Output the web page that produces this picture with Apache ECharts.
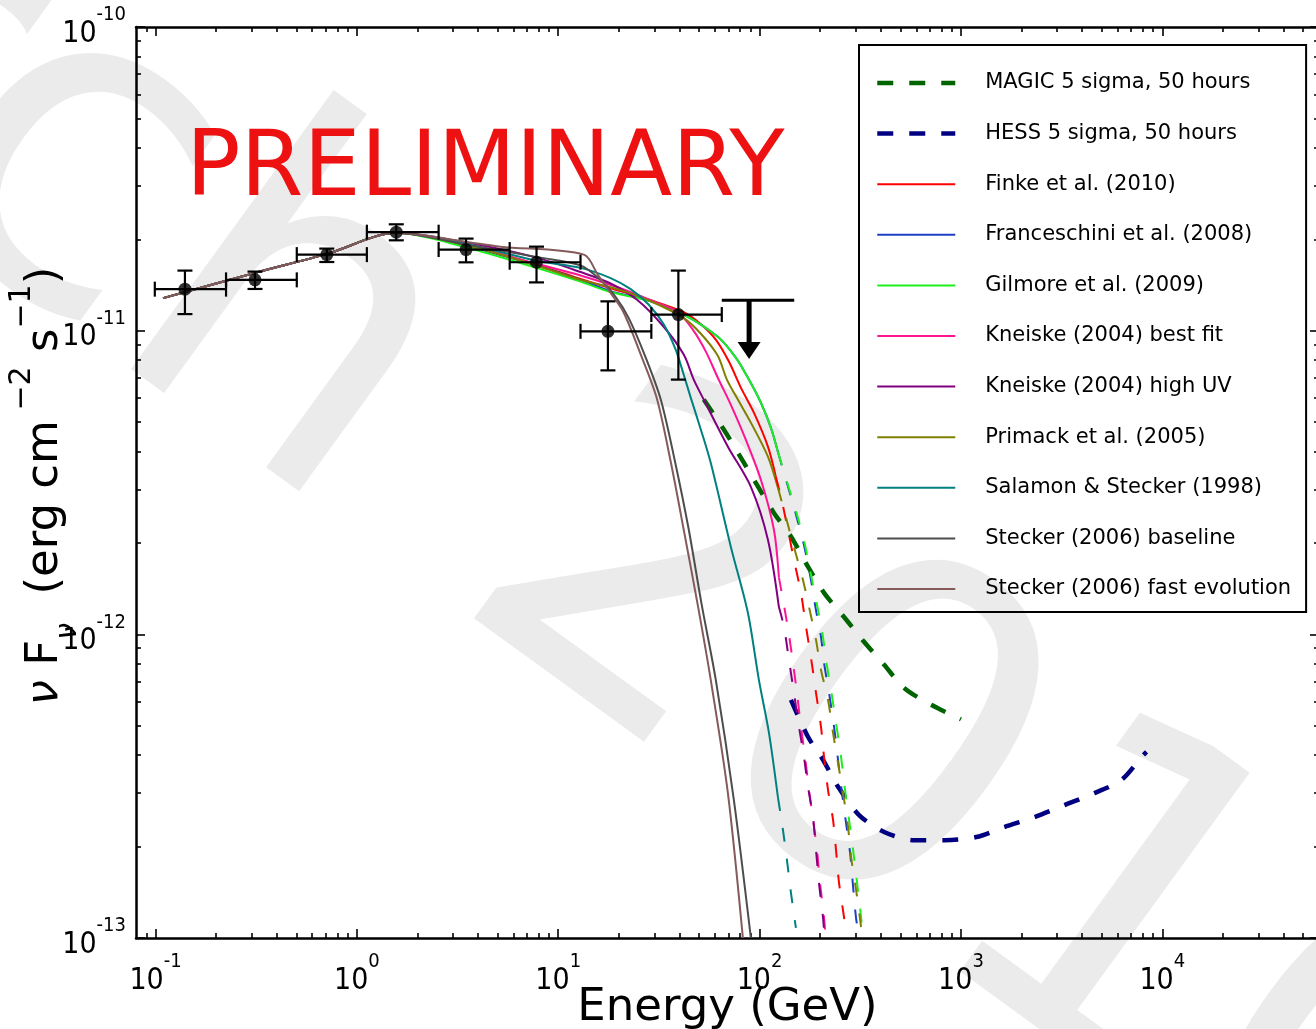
<!DOCTYPE html>
<html>
<head>
<meta charset="utf-8">
<title>Spectral energy distribution with EBL model predictions</title>
<script src="https://cdn.jsdelivr.net/npm/echarts@6.0.0/dist/echarts.min.js"></script>
<style>
  html, body { margin: 0; padding: 0; background: #ffffff; overflow: hidden; }
  #chart { width: 1316px; height: 1029px; }
</style>
</head>
<body>
<div id="chart"></div>
<script>
// ---------- measured spectrum: energy (GeV), nuFnu (erg cm^-2 s^-1) ----------
const binE    = [0.140, 0.312, 0.709, 1.569, 3.485, 7.80, 17.65, 39.5];
const binF    = [1.37e-11, 1.47e-11, 1.78e-11, 2.11e-11, 1.85e-11, 1.68e-11, 9.95e-12, 1.13e-11];
const binELo  = [0.0992, 0.224, 0.503, 1.121, 2.547, 5.74, 12.9, 29.0];
const binEHi  = [0.224, 0.503, 1.121, 2.547, 5.74, 12.9, 29.0, 64.9];
const binFLo  = [1.134e-11, 1.372e-11, 1.683e-11, 1.984e-11, 1.679e-11, 1.442e-11, 7.4e-12, 6.9e-12];
const binFHi  = [1.577e-11, 1.565e-11, 1.863e-11, 2.24e-11, 2.01e-11, 1.891e-11, 1.249e-11, 1.577e-11];

// upper limit in the last bin
const ulE = 88.7, ulELo = 64.9, ulEHi = 148.6, ulF = 1.26e-11, ulTip = 8.07e-12;

// ---------- instrument sensitivities (5 sigma, 50 h) ----------
const magicE = [52.8, 66.5, 80.7, 93.7, 117.8, 143.1, 173.9, 208.9, 262.7, 330, 415.5, 522.3, 711.7, 1000];
const magicF = [5.93e-12, 4.72e-12, 3.82e-12, 3.23e-12, 2.51e-12, 2.10e-12, 1.67e-12, 1.37e-12, 1.14e-12, 9.45e-13, 7.94e-13, 6.66e-13, 5.86e-13, 5.25e-13];
const hessE  = [143.1, 173.9, 206.5, 245.2, 311.9, 415.5, 586, 826, 1192, 1642, 2316, 3265, 4604, 6273, 7889, 8353];
const hessF  = [6.08e-13, 4.60e-13, 3.86e-13, 3.15e-13, 2.54e-13, 2.235e-13, 2.10e-13, 2.10e-13, 2.15e-13, 2.32e-13, 2.50e-13, 2.74e-13, 3.00e-13, 3.32e-13, 3.95e-13, 4.10e-13];

// ---------- absorbed model spectra ----------
// shared low-energy part of every model
const riseE = [0.109, 0.312, 0.711, 1.57];
const riseF = [1.28e-11, 1.55e-11, 1.79e-11, 2.10e-11];

const finkeE = [3.50, 7.80, 12.9, 18.2, 28.8, 42.0, 51.1, 60.6, 70.4, 80.7, 93.7, 110, 120.5];
const finkeF = [1.91e-11, 1.65e-11, 1.48e-11, 1.38e-11, 1.26e-11, 1.15e-11, 1.05e-11, 9.34e-12, 7.91e-12, 6.49e-12, 5.37e-12, 4.15e-12, 3.30e-12];
const finkeTailE = [120.5, 127.6, 138.3, 148.1, 160.5, 170.0, 180.0, 190.6, 201.8, 208.9, 218.7, 231.6, 239.6, 248.0, 262.7, 268.8];
const finkeTailF = [3.30e-12, 2.84e-12, 2.21e-12, 1.76e-12, 1.37e-12, 1.06e-12, 8.37e-13, 6.42e-13, 4.96e-13, 3.95e-13, 3.07e-13, 2.45e-13, 1.95e-13, 1.52e-13, 1.17e-13, 1.05e-13];

const francE = [3.50, 7.80, 12.9, 18.2, 28.8, 42.0, 62.0, 76.2, 88.5, 101.5, 113.8, 123.3];
const francF = [1.90e-11, 1.64e-11, 1.47e-11, 1.35e-11, 1.25e-11, 1.13e-11, 9.55e-12, 8.15e-12, 6.90e-12, 5.79e-12, 4.79e-12, 3.99e-12];
const francTailE = [123.3, 132.1, 143.1, 155.0, 168.1, 180.0, 190.6, 201.8, 208.9, 221.2, 234.3, 245.2, 256.7, 268.8, 281.4, 291.2, 301.4, 308.4];
const francTailF = [3.99e-12, 3.40e-12, 2.84e-12, 2.35e-12, 1.90e-12, 1.51e-12, 1.20e-12, 9.81e-13, 8.06e-13, 6.42e-13, 4.96e-13, 3.86e-13, 3.00e-13, 2.39e-13, 1.91e-13, 1.48e-13, 1.16e-13, 1.06e-13];

const gilmoreE = [3.50, 7.80, 12.9, 18.2, 28.8, 42.0, 62.0, 76.2, 88.5, 101.5, 113.8, 123.3];
const gilmoreF = [1.88e-11, 1.61e-11, 1.45e-11, 1.34e-11, 1.25e-11, 1.13e-11, 9.55e-12, 8.15e-12, 6.90e-12, 5.79e-12, 4.79e-12, 3.99e-12];
const gilmoreTailE = [123.3, 132.1, 143.1, 155.0, 168.1, 180.0, 192.8, 204.2, 213.7, 226.3, 239.6, 253.8, 265.7, 278.2, 291.2, 304.9, 319.2, 322.8];
const gilmoreTailF = [3.99e-12, 3.43e-12, 2.88e-12, 2.42e-12, 1.97e-12, 1.57e-12, 1.25e-12, 1.03e-12, 8.24e-13, 6.56e-13, 5.11e-13, 3.95e-13, 3.07e-13, 2.45e-13, 1.95e-13, 1.52e-13, 1.17e-13, 1.06e-13];

const kneiskeBestE = [3.50, 7.80, 12.9, 19.7, 28.8, 39.2, 46.6, 54.1, 62.0, 72.0, 85.5, 101.5, 117.8, 124.7];
const kneiskeBestF = [1.92e-11, 1.66e-11, 1.52e-11, 1.39e-11, 1.26e-11, 1.15e-11, 1.008e-11, 8.53e-12, 7.00e-12, 5.70e-12, 4.37e-12, 3.23e-12, 2.21e-12, 1.54e-12];
const kneiskeBestTailE = [124.7, 132.1, 139.9, 146.5, 153.3, 160.5, 168.1, 176.0, 184.2, 192.8, 199.5, 208.9, 211.3];
const kneiskeBestTailF = [1.54e-12, 1.25e-12, 9.96e-13, 8.06e-13, 6.42e-13, 4.96e-13, 3.95e-13, 3.07e-13, 2.45e-13, 1.95e-13, 1.52e-13, 1.17e-13, 1.06e-13];

const kneiskeUVE = [3.50, 7.80, 12.9, 18.2, 24.8, 33.4, 42.0, 47.1, 52.8, 69.6, 90.5, 110.0, 124.7];
const kneiskeUVF = [1.95e-11, 1.74e-11, 1.56e-11, 1.43e-11, 1.26e-11, 1.03e-11, 8.34e-12, 6.90e-12, 5.93e-12, 4.15e-12, 3.06e-12, 2.05e-12, 1.23e-12];
const kneiskeUVTailE = [124.7, 132.1, 139.9, 148.1, 156.9, 166.1, 173.9, 184.2, 190.6, 197.2, 206.5, 208.9];
const kneiskeUVTailF = [1.23e-12, 1.06e-12, 8.24e-13, 6.42e-13, 4.96e-13, 3.95e-13, 3.15e-13, 2.50e-13, 1.95e-13, 1.52e-13, 1.17e-13, 1.06e-13];

const primackE = [3.50, 7.80, 12.9, 19.7, 28.8, 42.0, 51.1, 62.0, 68.8, 78.0, 90.5, 110.0, 123.3];
const primackF = [1.91e-11, 1.64e-11, 1.47e-11, 1.37e-11, 1.25e-11, 1.10e-11, 9.77e-12, 8.27e-12, 6.90e-12, 5.93e-12, 4.98e-12, 3.85e-12, 3.04e-12];
const primackTailE = [123.3, 132.1, 148.1, 164.2, 176.0, 190.6, 201.8, 218.7, 231.6, 245.2, 259.7, 275.0, 284.6, 301.4, 319.2];
const primackTailF = [3.04e-12, 2.57e-12, 1.94e-12, 1.51e-12, 1.23e-12, 9.59e-13, 7.64e-13, 6.08e-13, 4.74e-13, 3.77e-13, 3.00e-13, 2.32e-13, 1.85e-13, 1.44e-13, 1.087e-13];

const salamonE = [3.50, 7.80, 12.9, 18.2, 22.9, 28.1, 33.4, 38.3, 42.0, 45.5, 51.1, 57.2, 72.0, 87.4, 99.2, 111.3, 123.3];
const salamonF = [1.93e-11, 1.70e-11, 1.61e-11, 1.49e-11, 1.37e-11, 1.22e-11, 1.05e-11, 8.66e-12, 7.16e-12, 6.02e-12, 4.72e-12, 3.67e-12, 1.94e-12, 1.18e-12, 7.08e-13, 4.74e-13, 2.91e-13];
const salamonTailE = [123.3, 130.6, 136.7, 143.1, 151.5];
const salamonTailF = [2.91e-13, 2.27e-13, 1.81e-13, 1.41e-13, 1.08e-13];

const steckerBaseE = [3.50, 8.16, 12.9, 16.2, 19.3, 22.4, 27.2, 32.3, 38.3, 44.5, 51.6, 60.6, 74.5, 90.5];
const steckerBaseF = [1.92e-11, 1.74e-11, 1.64e-11, 1.47e-11, 1.29e-11, 1.10e-11, 8.15e-12, 5.93e-12, 3.62e-12, 2.21e-12, 1.25e-12, 7.08e-13, 2.85e-13, 1.0e-13];

const steckerFastE = [3.50, 5.16, 13.4, 15.7, 18.2, 21.1, 25.7, 30.8, 36.2, 42.0, 49.3, 57.2, 69.6, 82.6];
const steckerFastF = [1.96e-11, 1.89e-11, 1.78e-11, 1.53e-11, 1.33e-11, 1.15e-11, 8.34e-12, 6.02e-12, 3.70e-12, 2.21e-12, 1.25e-12, 7.08e-13, 3.00e-13, 1.0e-13];

// axis ranges and tick values
const xRange = [0.08, 6e4];
const yRange = [1e-13, 1e-10];
const xDecades = [0.1, 1, 10, 100, 1000, 10000];
const yDecades = [1e-13, 1e-12, 1e-11, 1e-10];

// ---------- helpers ----------
const lg = Math.log10;
const FONT = 'DejaVu Sans';
const TICK_FONT = '"DejaVu Sans Condensed", "DejaVu Sans"';
const pairs = (E, F) => E.map((e, i) => [lg(e), lg(F[i])]);
function minorLogs(lo, hi) {
  const out = [];
  for (let p = Math.floor(lg(lo)); p <= Math.ceil(lg(hi)); p++) {
    for (let k = 2; k <= 9; k++) {
      const v = k * Math.pow(10, p);
      if (v > lo && v < hi) out.push(lg(v));
    }
  }
  return out;
}
const expLabel = v => '{b|10}{e|' + Math.round(v) + '}';
const tickRich = {
  b: { fontFamily: TICK_FONT, fontSize: 30, lineHeight: 44, verticalAlign: 'bottom', color: '#000' },
  e: { fontFamily: TICK_FONT, fontSize: 20, lineHeight: 20, verticalAlign: 'top', color: '#000' }
};

function axis(pos, range, values, len, withLine, label) {
  return {
    type: 'value', position: pos, min: lg(range[0]), max: lg(range[1]),
    axisLine: { show: withLine, onZero: false, lineStyle: { color: '#000', width: 2.5 } },
    axisTick: { show: true, inside: true, length: len, customValues: values, lineStyle: { color: '#000', width: 1.6 } },
    axisLabel: label || { show: false },
    splitLine: { show: false }, minorTick: { show: false }, minorSplitLine: { show: false }
  };
}

const xMajor = xDecades.map(lg), xMinor = minorLogs(xRange[0], xRange[1]);
const yMajor = yDecades.map(lg), yMinor = minorLogs(yRange[0], yRange[1]);

const xBottom = axis('bottom', xRange, xMajor, 9, true, {
  show: true, customValues: xMajor, margin: 14, formatter: expLabel, rich: tickRich
});
xBottom.name = 'Energy (GeV)';
xBottom.nameLocation = 'middle';
xBottom.nameGap = 48;
xBottom.nameMoveOverlap = false;
xBottom.nameTextStyle = { fontFamily: FONT, fontSize: 45, color: '#000' };

const yLeft = axis('left', yRange, yMajor, 9, true, {
  show: true, customValues: yMajor, margin: 10, formatter: expLabel, rich: tickRich
});

// the grid places a second axis on the free side, so each side gets one major and one minor axis
const xAxes = [
  xBottom,
  axis('top', xRange, xMajor, 9, true),
  axis('top', xRange, xMinor, 5, false),
  axis('bottom', xRange, xMinor, 5, false)
];
const yAxes = [
  yLeft,
  axis('right', yRange, yMajor, 9, true),
  axis('right', yRange, yMinor, 5, false),
  axis('left', yRange, yMinor, 5, false)
];

// ---------- series ----------
const thinDash = [14, 17];
const thickDash = [16, 16];
const models = [
  { name: 'Finke et al. (2010)',          color: '#ff0000', E: finkeE, F: finkeF, tE: finkeTailE, tF: finkeTailF },
  { name: 'Franceschini et al. (2008)',   color: '#1c3fc4', E: francE, F: francF, tE: francTailE, tF: francTailF },
  { name: 'Gilmore et al. (2009)',        color: '#1eee1e', E: gilmoreE, F: gilmoreF, tE: gilmoreTailE, tF: gilmoreTailF },
  { name: 'Kneiske (2004) best fit',      color: '#ff1493', E: kneiskeBestE, F: kneiskeBestF, tE: kneiskeBestTailE, tF: kneiskeBestTailF },
  { name: 'Kneiske (2004) high UV',       color: '#800080', E: kneiskeUVE, F: kneiskeUVF, tE: kneiskeUVTailE, tF: kneiskeUVTailF },
  { name: 'Primack et al. (2005)',        color: '#808000', E: primackE, F: primackF, tE: primackTailE, tF: primackTailF },
  { name: 'Salamon & Stecker (1998)',     color: '#008080', E: salamonE, F: salamonF, tE: salamonTailE, tF: salamonTailF },
  { name: 'Stecker (2006) baseline',      color: '#4d4d4d', E: steckerBaseE, F: steckerBaseF },
  { name: 'Stecker (2006) fast evolution', color: '#855a5a', E: steckerFastE, F: steckerFastF }
];

function lineSeries(name, data, color, width, dash, z) {
  return {
    type: 'line', name: name, data: data, xAxisIndex: 0, yAxisIndex: 0,
    showSymbol: false, symbol: 'none', smooth: 0.3, clip: true,
    lineStyle: { color: color, width: width, type: dash || 'solid', cap: 'butt', join: 'round' },
    itemStyle: { color: color }, emphasis: { disabled: true }, z: z
  };
}

const series = [];
series.push(lineSeries('MAGIC 5 sigma, 50 hours', pairs(magicE, magicF), '#006400', 4.5, thickDash, 2));
series.push(lineSeries('HESS 5 sigma, 50 hours', pairs(hessE, hessF), '#000080', 4.5, thickDash, 2));
models.forEach(m => {
  series.push(lineSeries(m.name, pairs(riseE.concat(m.E), riseF.concat(m.F)), m.color, 2, null, 3));
});
models.forEach(m => {
  if (m.tE) series.push(lineSeries(m.name, pairs(m.tE, m.tF), m.color, 2, thinDash, 3));
});

// error bars with caps
series.push({
  type: 'custom', name: 'spectrum errors', xAxisIndex: 0, yAxisIndex: 0, z: 5,
  data: binE.map((e, i) => [lg(e), lg(binF[i]), lg(binELo[i]), lg(binEHi[i]), lg(binFLo[i]), lg(binFHi[i])]),
  renderItem: function (params, api) {
    const c = api.coord([api.value(0), api.value(1)]);
    const xl = api.coord([api.value(2), api.value(1)])[0];
    const xh = api.coord([api.value(3), api.value(1)])[0];
    const yl = api.coord([api.value(0), api.value(4)])[1];
    const yh = api.coord([api.value(0), api.value(5)])[1];
    const cap = 7.5, st = { stroke: '#000', lineWidth: 2.2 };
    const seg = (x1, y1, x2, y2) => ({ type: 'line', shape: { x1: x1, y1: y1, x2: x2, y2: y2 }, style: st });
    return { type: 'group', children: [
      seg(xl, c[1], xh, c[1]), seg(c[0], yl, c[0], yh),
      seg(xl, c[1] - cap, xl, c[1] + cap), seg(xh, c[1] - cap, xh, c[1] + cap),
      seg(c[0] - cap, yl, c[0] + cap, yl), seg(c[0] - cap, yh, c[0] + cap, yh)
    ] };
  }
});
series.push({
  type: 'scatter', name: 'spectrum points', xAxisIndex: 0, yAxisIndex: 0, z: 6,
  symbol: 'circle', symbolSize: 13, itemStyle: { color: '#000' },
  data: pairs(binE, binF), emphasis: { disabled: true }
});
// upper limit: horizontal bar plus a downward arrow
series.push({
  type: 'custom', name: 'upper limit', xAxisIndex: 0, yAxisIndex: 0, z: 6,
  data: [[lg(ulE), lg(ulF), lg(ulELo), lg(ulEHi), lg(ulTip)]],
  renderItem: function (params, api) {
    const c = api.coord([api.value(0), api.value(1)]);
    const lo = api.coord([api.value(2), api.value(1)]);
    const hi = api.coord([api.value(3), api.value(1)]);
    const tip = api.coord([api.value(0), api.value(4)]);
    const head = 17, half = 11.5;
    return { type: 'group', children: [
      { type: 'line', shape: { x1: lo[0], y1: c[1], x2: hi[0], y2: c[1] }, style: { stroke: '#000', lineWidth: 3 } },
      { type: 'line', shape: { x1: c[0], y1: c[1], x2: c[0], y2: tip[1] - head + 1 }, style: { stroke: '#000', lineWidth: 5 } },
      { type: 'polygon', shape: { points: [[c[0] - half, tip[1] - head], [c[0] + half, tip[1] - head], [c[0], tip[1]]] }, style: { fill: '#000' } }
    ] };
  }
});

const legendNames = ['MAGIC 5 sigma, 50 hours', 'HESS 5 sigma, 50 hours'].concat(models.map(m => m.name));

// watermark geometry: text runs down-right at 36 degrees
const wmAngle = 36 * Math.PI / 180;

const option = {
  animation: false,
  backgroundColor: '#ffffff',
  textStyle: { fontFamily: FONT },
  grid: { left: 136, top: 27, width: 1183, height: 911, containLabel: false, outerBoundsMode: 'none' },
  xAxis: xAxes,
  yAxis: yAxes,
  legend: {
    orient: 'vertical', left: 859, top: 45, selectedMode: false,
    data: legendNames.map(n => n.indexOf('5 sigma') >= 0
      ? { name: n, lineStyle: { type: thickDash, width: 4.5 } }
      : { name: n, lineStyle: { width: 2 } }),
    itemWidth: 78, itemHeight: 14, itemGap: 20.6,
    padding: [23, 15, 8, 16],
    borderColor: '#000', borderWidth: 2, borderRadius: 0, backgroundColor: 'transparent',
    itemStyle: { opacity: 0 },
    textStyle: { fontFamily: FONT, fontSize: 21, color: '#000', lineHeight: 30, padding: [0, 0, 0, 25] }
  },
  graphic: [
    {
      type: 'text', z: -20, silent: true, x: -720, y: -395, rotation: -wmAngle,
      style: { text: 'March 2010', fontFamily: FONT, fontSize: 454, fill: '#ebebeb', align: 'left', verticalAlign: 'middle' }
    },
    {
      type: 'text', z: 20, silent: true, x: 186, y: 171,
      style: { text: 'PRELIMINARY', fontFamily: FONT, fontSize: 90.5, fill: '#ee1111', align: 'left', verticalAlign: 'middle' }
    },
    {
      type: 'text', z: 20, silent: true, x: 45, y: 486, rotation: Math.PI / 2,
      style: {
        text: '{it|ν}{m| F}{sub|ν}{m|  (erg cm}{sup| −2}{m| s}{sup|−1}{m|)}',
        fontFamily: FONT, fontSize: 45, fill: '#000', align: 'center', verticalAlign: 'middle',
        rich: {
          it:  { fontFamily: FONT, fontSize: 45, fontStyle: 'italic', lineHeight: 76, verticalAlign: 'middle', fill: '#000' },
          m:   { fontFamily: FONT, fontSize: 45, lineHeight: 76, verticalAlign: 'middle', fill: '#000' },
          sub: { fontFamily: FONT, fontSize: 30, fontStyle: 'italic', lineHeight: 40, verticalAlign: 'bottom', fill: '#000' },
          sup: { fontFamily: FONT, fontSize: 30, lineHeight: 30, verticalAlign: 'top', fill: '#000' }
        }
      }
    }
  ],
  series: series
};

const chart = echarts.init(document.getElementById('chart'), null, { renderer: 'canvas' });
chart.setOption(option);
</script>
</body>
</html>
